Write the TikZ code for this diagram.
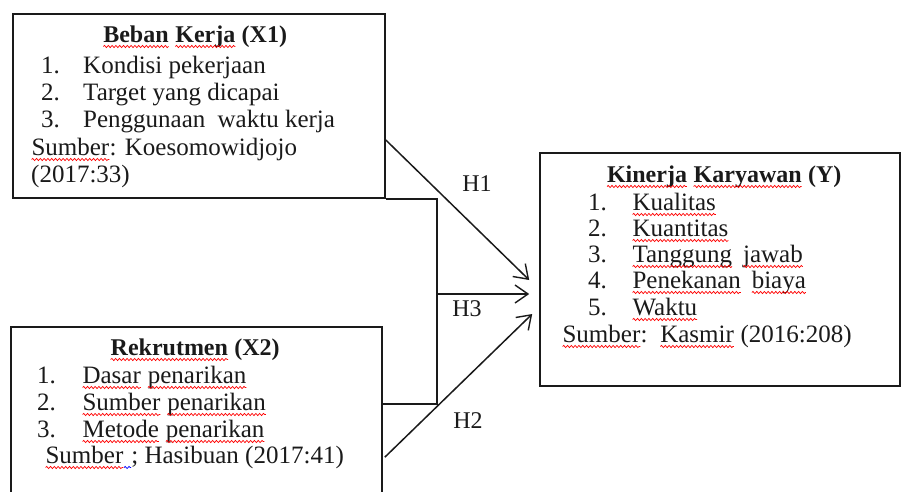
\documentclass[tikz,border=0pt]{standalone}
\usepackage{fontspec}
\setmainfont{Liberation Serif}
\usetikzlibrary{arrows.meta,calc,decorations.pathmorphing}
\tikzset{wave/.style={line width=0.7pt, decorate,
    decoration={snake, amplitude=1.1pt, segment length=3.8pt}}}
\newcommand\rw[1]{\tikz[baseline=(w.base)]{\node[inner sep=0pt,outer sep=0pt,anchor=base] (w) {#1};
  \draw[wave, red] ([yshift=-4.5pt]w.base west) -- ([yshift=-4.5pt]w.base east);}}
\newcommand\bw[1]{\tikz[baseline=(w.base)]{\node[inner sep=0pt,outer sep=0pt,anchor=base] (w) {#1};
  \draw[wave, blue] ([yshift=-4.5pt]w.base west) -- ([yshift=-4.5pt]w.base east);}}
\newcommand\fs{\fontsize{25}{28}\selectfont}
\newcommand\fst{\fontsize{24}{28}\selectfont}
\definecolor{ink}{HTML}{1A1A1A}
\tikzset{
  box/.style={draw=ink, line width=1.6pt, inner sep=0pt},
  txt/.style={anchor=base west, inner sep=0pt, font=\fs, text=ink},
  ttl/.style={anchor=base, inner sep=0pt, font=\fst\bfseries, text=ink},
  lbl/.style={anchor=base, inner sep=0pt, font=\fst, text=ink},
  conn/.style={draw=ink, line width=1.5pt},
  arr/.style={conn, -{Straight Barb[length=13pt,width=18pt,line width=1.4pt]}}
}
\begin{document}
\begin{tikzpicture}[x=1pt,y=-1pt]
\clip (0,0) rectangle (902,491);
\fill[white] (0,0) rectangle (902,491);
% boxes
\node[box, minimum width=372pt, minimum height=184pt] (x1) at (199,106) {};
\node[box, minimum width=371pt, minimum height=180pt] (x2) at (196.5,417) {};
\node[box, minimum width=360pt, minimum height=233pt] (y) at (720,269.5) {};
% X1 text
\node[ttl] (x1t) at (195,42) {\rw{Beban} \rw{Kerja} (X1)};
\node[txt] (x1a) at (41,73) {\makebox[42pt][l]{1.}Kondisi pekerjaan};
\node[txt] (x1b) at (41,100) {\makebox[42pt][l]{2.}Target yang dicapai};
\node[txt] (x1c) at (41,127) {\makebox[42pt][l]{3.}Penggunaan\hspace{6pt} waktu kerja};
\node[txt] (x1d) at (31,155) {\rw{Sumber}: Koesomowidjojo};
\node[txt] (x1e) at (31,182) {(2017:33)};
% X2 text
\node[ttl] (x2t) at (195,355) {\rw{Rekrutmen} (X2)};
\node[txt] (x2a) at (37,383) {\makebox[45pt][l]{1.}\rw{Dasar} \rw{penarikan}};
\node[txt] (x2b) at (37,410) {\makebox[45pt][l]{2.}\rw{Sumber} \rw{penarikan}};
\node[txt] (x2c) at (37,437) {\makebox[45pt][l]{3.}\rw{Metode} \rw{penarikan}};
\node[txt] (x2d) at (45,463) {\rw{Sumber}\bw{\hbox to 7pt{}};\ Hasibuan (2017:41)};
% Y text
\node[ttl] (yt) at (724,182) {\rw{Kinerja} \rw{Karyawan} (Y)};
\node[txt] (ya) at (588,210) {\makebox[44pt][l]{1.}\rw{Kualitas}};
\node[txt] (yb) at (588,236) {\makebox[44pt][l]{2.}\rw{Kuantitas}};
\node[txt] (yc) at (588,262) {\makebox[44pt][l]{3.}\rw{Tanggung}\hspace{4pt} \rw{jawab}};
\node[txt] (yd) at (588,288) {\makebox[44pt][l]{4.}\rw{Penekanan}\hspace{4pt} \rw{biaya}};
\node[txt] (ye) at (588,315) {\makebox[44pt][l]{5.}\rw{Waktu}};
\node[txt] (yf) at (562,342) {\rw{Sumber}:\hspace{4pt} \rw{Kasmir} (2016:208)};
% arrow tips
\coordinate (t1) at ([xshift=-10pt,yshift=-10.5pt]y.west);
\coordinate (t3) at ([xshift=-10pt,yshift=-24.5pt]y.west);
\coordinate (t2) at ([xshift=-7pt,yshift=-44.5pt]y.west);
% H1
\draw[arr] ([yshift=-34pt]x1.east) -- (t1);
% H3 bracket
\draw[conn] (x1.south east) -- ++(51,0) coordinate (jt)
  -- ($(x2.north east)+(54,78)$) coordinate (jb)
  -- ($(x2.north east)+(0,78)$);
\draw[arr] (jt |- t3) -- (t3);
% H2
\draw[arr] ($(x2.north east)+(2,131)$) -- (t2);
% labels
\node[lbl] (h1) at (477,191) {H1};
\node[lbl] (h3) at (467,316) {H3};
\node[lbl] (h2) at (468,428) {H2};
\end{tikzpicture}
\end{document}
